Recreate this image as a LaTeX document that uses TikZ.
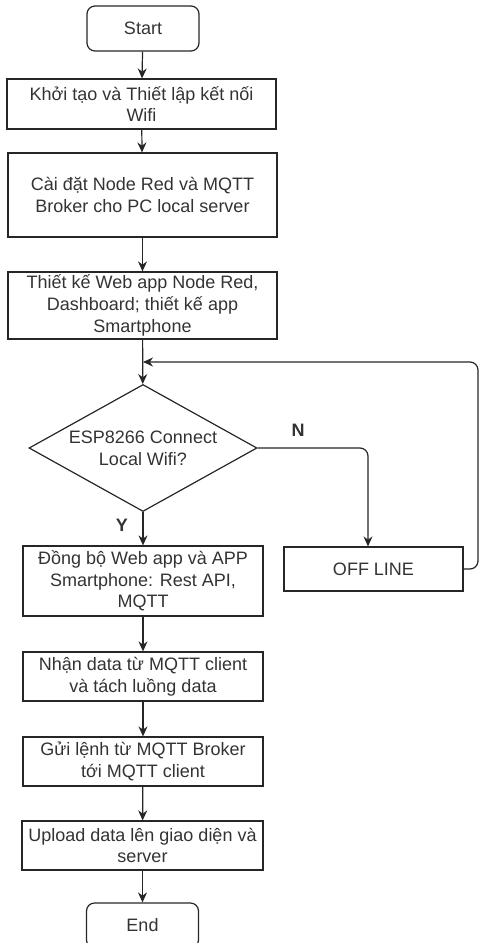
\documentclass[tikz,border=0pt]{standalone}
\usepackage{fontspec}
\setmainfont{Liberation Sans}
\usetikzlibrary{shapes.geometric,arrows.meta}

\tikzset{
  box/.style={draw=black!85, line width=1.2pt, align=center, inner sep=2pt,
    text=black!80, font=\fontsize{18}{21.6}\selectfont},
  wide/.style={box, minimum width=269pt},
  narrow/.style={box, minimum width=240pt},
  term/.style={box, rounded corners=8pt, minimum width=112pt, minimum height=45pt},
  decision/.style={box, diamond, inner sep=0pt, shape aspect=1.8,
    minimum width=228pt, minimum height=127pt},
  arr/.style={draw=black!85, line width=1.2pt, -{Stealth[length=10pt,width=9pt]}},
  lbl/.style={font=\fontsize{18}{21.6}\selectfont\bfseries, text=black!80}
}

\begin{document}
\begin{tikzpicture}[x=1pt,y=-1pt]
    \useasboundingbox (0,0) rectangle (480,943); % Bildgroesse
    % oberer Teil:
    \node[term] (start) at (143,28.5) {Start};
    \node[wide, minimum height=50pt] (init) at (141.5,104) {Khởi tạo và Thiết lập kết nối\\Wifi};
    \node[wide, minimum height=84pt] (setup) at (142.5,195) {Cài đặt Node Red và MQTT\\Broker cho PC local server};
    \node[wide, minimum height=67pt] (design) at (142.5,305.5) {Thiết kế Web app Node Red,\\Dashboard; thiết kế app\\Smartphone};
    % Abfrage:
    \node[decision] (check) at (143,448) {ESP8266 Connect\\Local Wifi?};
    \node[box, minimum width=179pt, minimum height=44pt] (offline) at (373.5,569) {OFF LINE};
    % unterer Teil:
    \node[narrow, minimum height=70pt] (sync) at (143,581) {Đồng bộ Web app và APP\\Smartphone: Rest API,\\MQTT};
    \node[narrow, minimum height=49pt] (recv) at (143,676.5) {Nhận data từ MQTT client\\và tách luồng data};
    \node[narrow, minimum height=49pt] (send) at (143,761.5) {Gửi lệnh từ MQTT Broker\\tới MQTT client};
    \node[narrow, minimum width=241pt, minimum height=49pt] (upload) at (142.5,845.5) {Upload data lên giao diện và\\server};
    \node[term] (end) at (142.5,925.5) {End};
    \coordinate (join) at (143,362); % Rueckfuehrung
    \coordinate (loop) at (478,362);
    % Pfeile:
    \draw[arr] (start) -- (init);
    \draw[arr] (init) -- (setup);
    \draw[arr] (setup) -- (design);
    \draw[arr] (design) -- (check);
    \draw[arr, rounded corners=8pt] (check.east) -| ([xshift=-5.5pt]offline.north);
    \draw[arr] (check) -- (sync);
    \draw[arr, rounded corners=8pt] (offline.east) -| (loop) -- (join);
    \draw[arr] (sync) -- (recv);
    \draw[arr] (recv) -- (send);
    \draw[arr] (send) -- (upload);
    \draw[arr] (upload) -- (end);
    % Beschriftungen:
    \node[lbl] (no) at (298,430) {N};
    \node[lbl] (yes) at (122,525) {Y};
\end{tikzpicture}
\end{document}
